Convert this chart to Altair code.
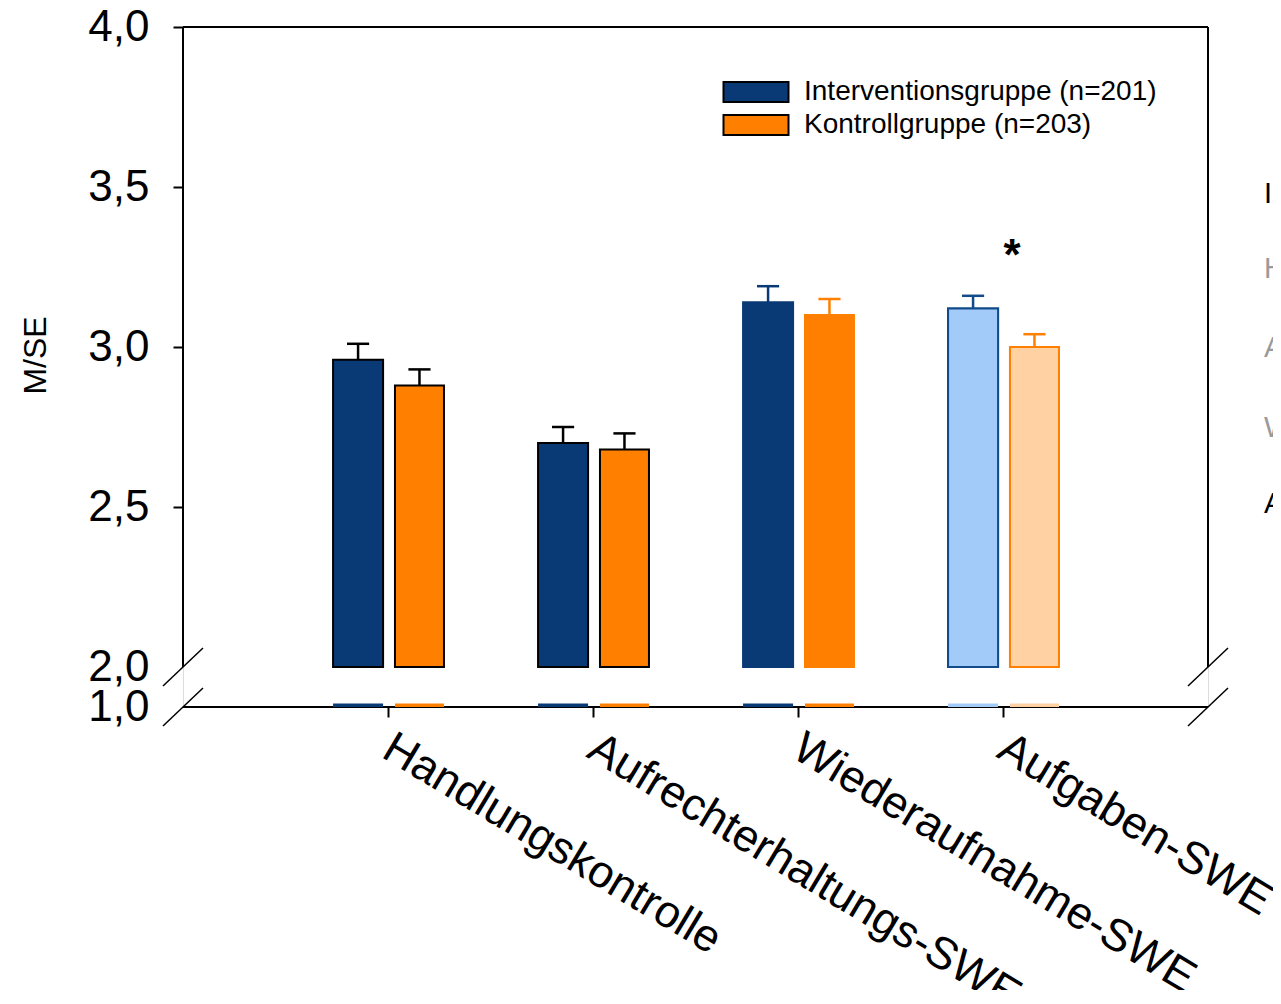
import altair as alt
import pandas as pd

# ---------------- data ----------------
categories = ["Handlungskontrolle", "Aufrechterhaltungs-SWE", "Wiederaufnahme-SWE", "Aufgaben-SWE"]
groups = ["Interventionsgruppe (n=201)", "Kontrollgruppe (n=203)"]
mean_int = [2.96, 2.70, 3.14, 3.12]
mean_kon = [2.88, 2.68, 3.10, 3.00]
upper_int = [3.01, 2.75, 3.19, 3.16]
upper_kon = [2.93, 2.73, 3.15, 3.04]
y_ticks = [1.875, 2.0, 2.5, 3.0, 3.5, 4.0]   # 1.875 is where the "1,0" baseline sits after the axis break
star_label = "*"
side_letters = ["I", "H", "A", "W", "A"]

# ---------------- styles / layout constants ----------------
FONT = "Liberation Sans"
BLUE = "#0A3A75"
ORANGE = "#FF8000"
LIGHT_BLUE = "#A3CBF9"
LIGHT_ORANGE = "#FFD1A3"
EDGE_BLUE = "#114B8A"
BREAK_LOW = 1.875      # display position of 1,0
Y_BASE = 2.0           # lower end of the upper axis segment
Y_TOP = 4.0
X_MAX = 5.0
OFF = {groups[0]: (-0.268, -0.024), groups[1]: (0.034, 0.273)}
CAP_HALF = 0.054

def style(ci, g):
    blue = g == groups[0]
    if ci < 2:
        return (BLUE if blue else ORANGE), "black", "black"
    if ci == 2:
        c = BLUE if blue else ORANGE
        return c, c, c
    return (LIGHT_BLUE if blue else LIGHT_ORANGE), (EDGE_BLUE if blue else ORANGE), (EDGE_BLUE if blue else ORANGE)

rows = []
for ci, cat in enumerate(categories):
    for g, means, ups in [(groups[0], mean_int, upper_int), (groups[1], mean_kon, upper_kon)]:
        fill, edge, ebc = style(ci, g)
        x0 = ci + 1 + OFF[g][0]
        x1 = ci + 1 + OFF[g][1]
        xc = (x0 + x1) / 2
        rows.append(dict(cat=cat, group=g, mean=means[ci], upper=ups[ci],
                         x0=x0, x1=x1, xc=xc, cl=xc - CAP_HALF, cr=xc + CAP_HALF,
                         fillc=fill, edge=edge, ebc=ebc, light=(ci == 3)))
df = pd.DataFrame(rows)

xs = alt.Scale(domain=[0, X_MAX], nice=False, zero=False)
ys = alt.Scale(domain=[BREAK_LOW, Y_TOP], nice=False, zero=False)

label_arr = "[" + ",".join("'%s'" % c for c in categories) + "]"

x_axis = alt.Axis(values=[1, 2, 3, 4], labelExpr=label_arr + "[datum.value-1]",
                  domain=False, grid=False, tickSize=10, tickWidth=2, tickColor="black",
                  labelAngle=31, labelAlign="left", labelBaseline="top", labelPadding=8,
                  labelOffset=10,
                  labelFont=FONT, labelFontSize=45, labelColor="black", title=None,
                  labelOverlap=False, labelFlush=False, labelBound=False, labelLimit=2000)
y_axis = alt.Axis(values=y_ticks,
                  labelExpr="datum.value < 1.9 ? '1,0' : replace(format(datum.value, '.1f'), '.', ',')",
                  domain=False, grid=False, tickSize=10, tickWidth=2, tickColor="black",
                  tickOpacity={"condition": {"test": "datum.value > 2.2", "value": 1}, "value": 0},
                  labelPadding=24, labelFont=FONT, labelFontSize=44, labelColor="black",
                  labelOverlap=False, labelFlush=False, labelBound=False,
                  title="M/SE", titleFont=FONT, titleFontSize=32, titleFontWeight="normal",
                  titleColor="black", titleX=-148, titleY=328, titleAngle=270,
                  titleAlign="center", titleBaseline="middle")

base = alt.Chart(df)

legend = alt.Legend(orient="none", legendX=559, legendY=51, title=None,
                    symbolType="M-6.5,-2L6.5,-2L6.5,2L-6.5,2Z", symbolSize=100,
                    symbolStrokeColor="black", symbolStrokeWidth=2, symbolOffset=0,
                    labelOffset=34, labelFont=FONT, labelFontSize=28, labelColor="black",
                    rowPadding=5, padding=0, labelLimit=600)

bars = base.mark_bar(strokeWidth=2, clip=False).encode(
    x=alt.X("x0:Q", scale=xs, axis=x_axis),
    x2="x1:Q",
    y=alt.Y("mean:Q", scale=ys, axis=y_axis),
    y2=alt.datum(Y_BASE),
    fill=alt.Fill("group:N", scale=alt.Scale(domain=groups, range=[BLUE, ORANGE]), legend=legend),
    stroke=alt.Stroke("edge:N", scale=None),
)

light = base.transform_filter("datum.light").mark_bar(strokeWidth=2, clip=False).encode(
    x="x0:Q", x2="x1:Q", y="mean:Q", y2=alt.datum(Y_BASE),
    fill=alt.Fill("fillc:N", scale=None), stroke=alt.Stroke("edge:N", scale=None),
)

# the bars' stubs in the lower (1,0) segment below the axis break
slivers = base.mark_bar(clip=False, strokeWidth=0).encode(
    x="x0:Q", x2="x1:Q", y=alt.datum(BREAK_LOW), y2=alt.datum(BREAK_LOW + 0.011),
    fill=alt.Fill("fillc:N", scale=None),
)

err_v = base.mark_rule(strokeWidth=2.5).encode(
    x="xc:Q", y="mean:Q", y2="upper:Q", color=alt.Color("ebc:N", scale=None))
err_cap = base.mark_rule(strokeWidth=2.5).encode(
    x="cl:Q", x2="cr:Q", y="upper:Q", color=alt.Color("ebc:N", scale=None))

# ------- frame with the axis break -------
DX = 20 / 205.0
DY = 19 / 320.0
frame_rows = [
    dict(x=0, x2=0, y=Y_BASE, y2=Y_TOP, w=2),
    dict(x=X_MAX, x2=X_MAX, y=Y_BASE, y2=Y_TOP, w=2),
    dict(x=0, x2=X_MAX, y=Y_TOP, y2=Y_TOP, w=2),
    dict(x=0, x2=X_MAX, y=BREAK_LOW, y2=BREAK_LOW, w=2),
]
for xb in (0, X_MAX):
    for yb in (Y_BASE, BREAK_LOW):
        frame_rows.append(dict(x=xb - DX, x2=xb + DX, y=yb - DY, y2=yb + DY, w=1.5))
frame_df = pd.DataFrame(frame_rows)
frame = alt.Chart(frame_df).mark_rule(color="black", clip=False).encode(
    x="x:Q", x2="x2:Q", y="y:Q", y2="y2:Q", strokeWidth=alt.StrokeWidth("w:Q", scale=None))

# star
star_df = pd.DataFrame([dict(x=4.044, y=3.24, t=star_label)])
star = alt.Chart(star_df).mark_text(font=FONT, fontSize=44, fontWeight="bold", color="black",
                                    align="center", baseline="alphabetic").encode(
    x="x:Q", y="y:Q", text="t:N")

# letters cut off at the right edge
side_df = pd.DataFrame(dict(t=side_letters, y=[3.45, 3.216, 2.969, 2.719, 2.481],
                            c=["black", "#9a9a9a", "#9a9a9a", "#9a9a9a", "black"], x=[5.273] * 5))
side = alt.Chart(side_df).mark_text(font=FONT, fontSize=29, align="left", baseline="alphabetic",
                                    clip=False).encode(
    x="x:Q", y="y:Q", text="t:N", color=alt.Color("c:N", scale=None))

chart = alt.layer(frame, slivers, bars, light, err_v, err_cap, star, side).properties(
    width=1025, height=680,
    autosize=alt.AutoSizeParams(type="none"),
    padding={"left": 175, "top": 19, "right": 65, "bottom": 283},
).configure_view(stroke=None).configure(background="white")

chart.save("out.html", embed_options={"renderer": "svg", "actions": False})
